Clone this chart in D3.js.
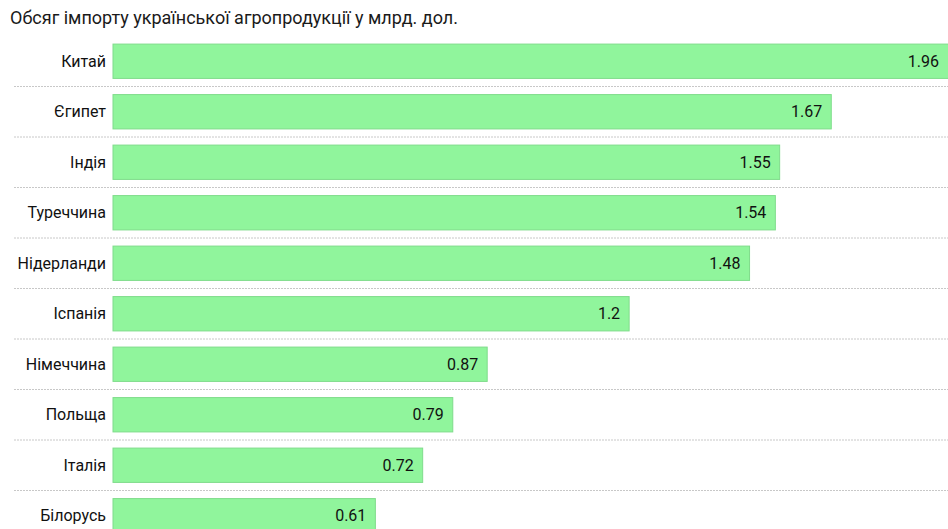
<!DOCTYPE html>
<html>
<head>
<meta charset="utf-8">
<script src="https://cdn.jsdelivr.net/npm/d3@7"></script>
<style>
	body { margin: 0; background: #fff; overflow: hidden; }
	svg { font-family: Roboto, "Noto Sans", sans-serif; }
</style>
</head>
<body>
<div id="chart"></div>
<script>
var countries = ["Китай", "Єгипет", "Індія", "Туреччина", "Нідерланди", "Іспанія", "Німеччина", "Польща", "Італія", "Білорусь"];
var imports = [1.96, 1.67, 1.55, 1.54, 1.48, 1.2, 0.87, 0.79, 0.72, 0.61];
var titleText = "Обсяг імпорту української агропродукції у млрд. дол.";

var width = 948,
	height = 529,
	barLeft = 113;

var svg = d3.select("#chart")
	.append("svg")
	.attr("width", width)
	.attr("height", height);

svg.append("text")
	.attr("x", 10)
	.attr("y", 24)
	.attr("font-size", 18)
	.attr("fill", "#1a1a1a")
	.text(titleText);

var x = d3.scaleLinear().domain([0, 1.96]).range([barLeft, 956]);
var y = d3.scaleBand().domain(countries).range([36, 541]).paddingInner(0.32).paddingOuter(0.16);

var step = y.step();

// dotted separators between rows
svg.append("g")
	.selectAll("line")
	.data(countries.slice(1))
	.join("line")
	.attr("x1", 14)
	.attr("x2", width)
	.attr("y1", d => y(d) - (step - y.bandwidth()) / 2)
	.attr("y2", d => y(d) - (step - y.bandwidth()) / 2)
	.attr("stroke", "#c8c8c8")
	.attr("stroke-width", 1)
	.attr("stroke-dasharray", "2,1");

var rows = svg.append("g")
	.selectAll("g")
	.data(countries)
	.join("g");

rows.append("rect")
	.attr("x", x(0))
	.attr("y", d => y(d))
	.attr("width", (d, i) => x(imports[i]) - x(0))
	.attr("height", y.bandwidth())
	.attr("fill", "#90f59c")
	.attr("stroke", "#7fdc8b")
	.attr("stroke-width", 1);

rows.append("text")
	.attr("x", (d, i) => Math.min(x(imports[i]), width) - 9)
	.attr("y", d => y(d) + y.bandwidth() / 2)
	.attr("dy", "0.35em")
	.attr("text-anchor", "end")
	.attr("font-size", 16)
	.attr("fill", "#111")
	.text((d, i) => imports[i]);

rows.append("text")
	.attr("x", barLeft - 7)
	.attr("y", d => y(d) + y.bandwidth() / 2)
	.attr("dy", "0.35em")
	.attr("text-anchor", "end")
	.attr("font-size", 16)
	.attr("fill", "#111")
	.text(d => d);
</script>
</body>
</html>
